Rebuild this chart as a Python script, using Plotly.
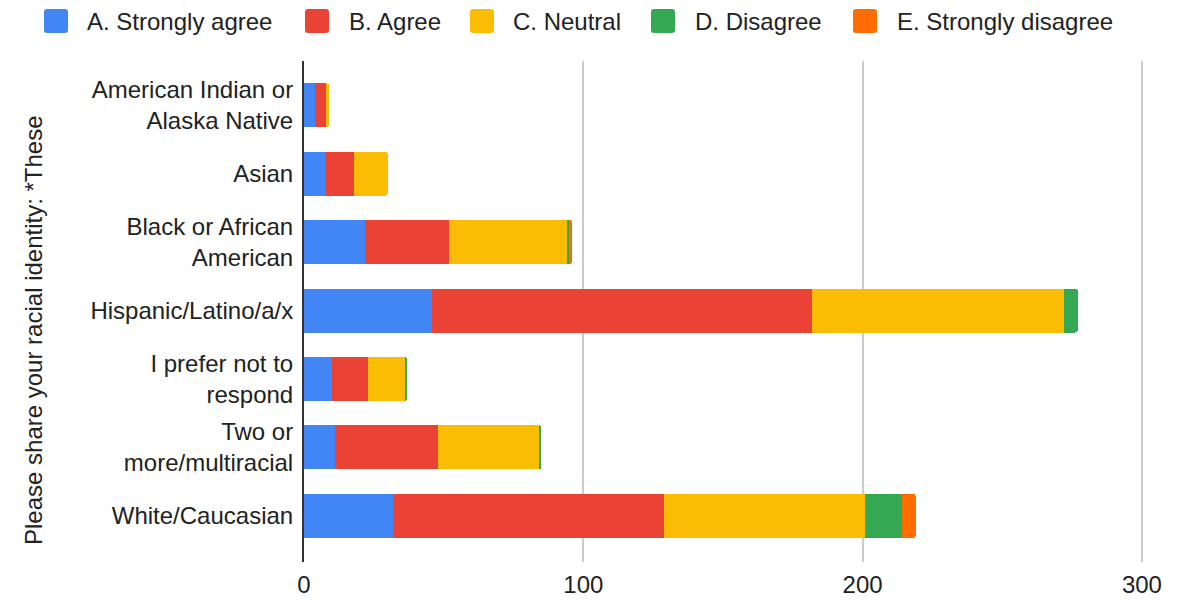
import plotly.graph_objects as go

categories = [
    "American Indian or<br>Alaska Native",
    "Asian",
    "Black or African<br>American",
    "Hispanic/Latino/a/x",
    "I prefer not to<br>respond",
    "Two or<br>more/multiracial",
    "White/Caucasian",
]
series_names = ["A. Strongly agree", "B. Agree", "C. Neutral", "D. Disagree", "E. Strongly disagree"]
strongly_agree = [4, 8, 22, 46, 10, 11, 32]
agree = [4, 10, 30, 136, 13, 37, 97]
neutral = [1, 12, 42, 90, 13, 36, 72]
disagree = [0, 0, 1, 5, 1, 1, 13]
strongly_disagree = [0, 0, 1, 0, 0, 0, 5]
colors = ["#4285f4", "#ea4335", "#fbbc04", "#34a853", "#ff6d01"]
x_ticks = [0, 100, 200, 300]
y_title = "Please share your racial identity: *These"

W, H = 1194, 600
L, R, T, B = 304, 1170, 61, 562
FONT = "Liberation Sans, Arial, sans-serif"

def px_x(p):
    return (p - L) / (R - L)

def px_y(p):
    return (B - p) / (B - T)

fig = go.Figure()
for name, vals, col in zip(series_names,
                           [strongly_agree, agree, neutral, disagree, strongly_disagree],
                           colors):
    fig.add_trace(go.Bar(
        y=list(range(len(categories))), x=vals, name=name, orientation="h",
        marker=dict(color=col, line=dict(width=0)), showlegend=False,
    ))

fig.update_layout(
    width=W, height=H,
    margin=dict(l=L, r=W - R, t=T, b=H - B),
    barmode="stack", bargap=0.357, barcornerradius=3,
    plot_bgcolor="white", paper_bgcolor="white",
    font=dict(family=FONT, size=24, color="#222222"),
    xaxis=dict(range=[0, (R - L) / 2.793], tickvals=x_ticks, showgrid=True,
               gridcolor="#cccccc", gridwidth=1.5, zeroline=False, showline=False,
               ticks="", tickfont=dict(size=24, color="#222222"), ticklabelstandoff=6,
               automargin=False),
    yaxis=dict(range=[6.677, -0.648], tickvals=list(range(len(categories))),
               ticktext=categories, showgrid=False, zeroline=False, showline=True,
               linecolor="#333333", linewidth=2, ticks="",
               tickfont=dict(size=24, color="#222222"), ticklabelstandoff=4,
               automargin=False),
)

# y-axis title
fig.add_annotation(text=y_title, x=px_x(33), y=px_y(330), xref="paper", yref="paper",
                   textangle=-90, showarrow=False, xanchor="center", yanchor="middle",
                   font=dict(size=24, color="#222222", family=FONT))

# custom legend
def rounded_rect(x0, y0, x1, y1, r=3):
    def P(x, y):
        return f"{px_x(x):.6f},{px_y(y):.6f}"
    return (f"M{P(x0 + r, y0)} L{P(x1 - r, y0)} Q{P(x1, y0)} {P(x1, y0 + r)} "
            f"L{P(x1, y1 - r)} Q{P(x1, y1)} {P(x1 - r, y1)} L{P(x0 + r, y1)} "
            f"Q{P(x0, y1)} {P(x0, y1 - r)} L{P(x0, y0 + r)} Q{P(x0, y0)} {P(x0 + r, y0)} Z")

sq_x = [44, 305, 470, 651, 853]
tx_x = [85, 347, 511, 693, 895]
for name, col, sx, tx in zip(series_names, colors, sq_x, tx_x):
    fig.add_shape(type="path", path=rounded_rect(sx, 9, sx + 24, 33), xref="paper", yref="paper",
                  fillcolor=col, line=dict(width=0))
    fig.add_annotation(text=name, x=px_x(tx), y=px_y(21), xref="paper", yref="paper",
                       showarrow=False, xanchor="left", yanchor="middle",
                       font=dict(size=24, color="#222222", family=FONT))

fig.write_html("out.html")
